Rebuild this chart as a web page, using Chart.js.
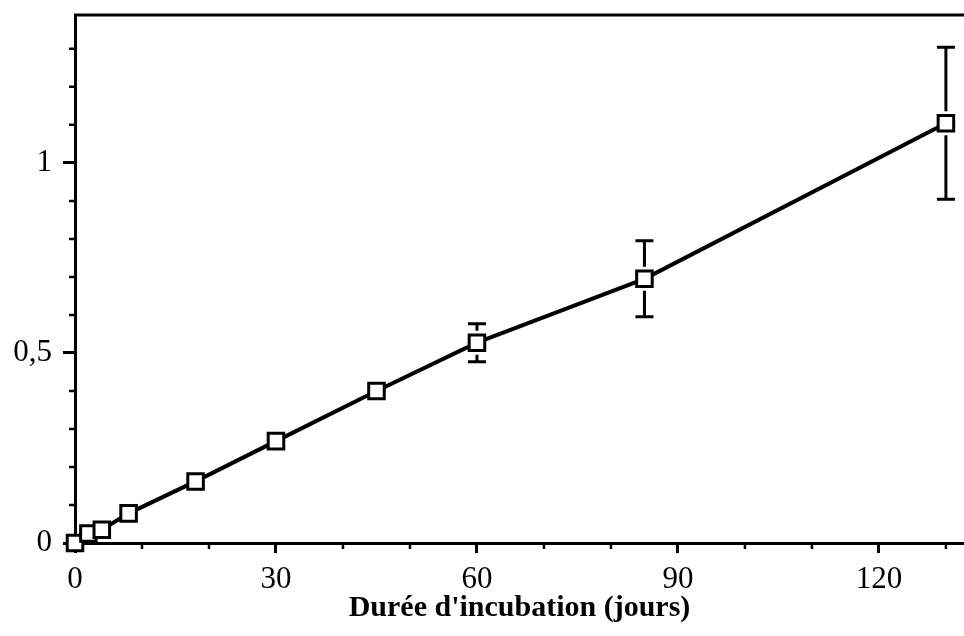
<!DOCTYPE html>
<html>
<head>
<meta charset="utf-8">
<script src="https://cdn.jsdelivr.net/npm/chart.js@4/dist/chart.umd.min.js"></script>
<style>
  html, body { margin: 0; padding: 0; background: #fff; }
  #wrap { width: 964px; height: 636px; }
</style>
</head>
<body>
<div id="wrap"><canvas id="chart" width="964" height="636"></canvas></div>
<script>
// incubation time (days) and measured values with error half-widths
const days = [0, 2, 4, 8, 18, 30, 45, 60, 85, 130];
const values = [0, 0.025, 0.035, 0.078, 0.162, 0.268, 0.4, 0.527, 0.695, 1.104];
const errors = [0, 0, 0, 0, 0, 0, 0, 0.05, 0.1, 0.2];
const xMajorTicks = [0, 30, 60, 90, 120];
const yTickLabels = { 0: "0", 0.5: "0,5", 1: "1" };

const FONT = "'Liberation Serif', 'Times New Roman', serif";
const isMajor = (v, step) => Math.abs(v / step - Math.round(v / step)) < 1e-6;

// error bars, minor ticks and the top frame line
const extras = {
  id: "extras",
  beforeDatasetsDraw(chart) {
    const { ctx, scales: { x, y } } = chart;
    const half = 12;
    ctx.save();
    ctx.strokeStyle = "#000";
    ctx.lineWidth = 3;
    days.forEach((d, i) => {
      if (!errors[i]) return;
      const px = x.getPixelForValue(d);
      const py = y.getPixelForValue(values[i]);
      const top = y.getPixelForValue(values[i] + errors[i]);
      const bot = y.getPixelForValue(values[i] - errors[i]);
      ctx.beginPath();
      ctx.moveTo(px, top);
      ctx.lineTo(px, py - half);
      ctx.moveTo(px, py + half);
      ctx.lineTo(px, bot);
      ctx.moveTo(px - 9, top);
      ctx.lineTo(px + 9, top);
      ctx.moveTo(px - 9, bot);
      ctx.lineTo(px + 9, bot);
      ctx.stroke();
    });
    ctx.restore();
  },
  afterDraw(chart) {
    const { ctx, chartArea, scales: { x, y } } = chart;
    ctx.save();
    ctx.strokeStyle = "#000";
    ctx.lineWidth = 3;
    ctx.beginPath();
    ctx.moveTo(chartArea.left - 1, chartArea.top);
    ctx.lineTo(chartArea.right, chartArea.top);
    ctx.stroke();
    ctx.lineWidth = 2.5;
    ctx.beginPath();
    x.ticks.forEach(t => {
      if (xMajorTicks.includes(t.value)) return;
      const px = x.getPixelForValue(t.value);
      ctx.moveTo(px, chartArea.bottom);
      ctx.lineTo(px, chartArea.bottom + 6);
    });
    y.ticks.forEach(t => {
      if (isMajor(t.value, 0.5)) return;
      const py = y.getPixelForValue(t.value);
      ctx.moveTo(chartArea.left, py);
      ctx.lineTo(chartArea.left - 6, py);
    });
    ctx.stroke();
    ctx.restore();
  }
};

new Chart(document.getElementById("chart"), {
  type: "line",
  data: {
    datasets: [{
      data: days.map((d, i) => ({ x: d, y: values[i] })),
      borderColor: "#000",
      borderWidth: 4,
      pointStyle: "rect",
      pointRadius: 11,
      pointBorderWidth: 3,
      pointBorderColor: "#000",
      pointBackgroundColor: "#fff",
      tension: 0,
      clip: false
    }]
  },
  options: {
    responsive: false,
    animation: false,
    layout: { autoPadding: false, padding: { top: 15, right: 0, left: 0, bottom: 0 } },
    plugins: { legend: { display: false }, tooltip: { enabled: false } },
    scales: {
      x: {
        type: "linear",
        min: 0,
        max: 132.7,
        afterFit: s => { s.height = 93; s.paddingLeft = 0; s.paddingRight = 0; },
        border: { display: true, color: "#000", width: 3 },
        grid: {
          drawOnChartArea: false,
          drawTicks: true,
          tickLength: 10,
          tickWidth: 3,
          tickColor: c => xMajorTicks.includes(c.tick.value) ? "#000" : "rgba(0,0,0,0)"
        },
        ticks: {
          stepSize: 10,
          autoSkip: false,
          maxRotation: 0,
          includeBounds: false,
          padding: 8,
          color: "#000",
          font: { family: FONT, size: 31 },
          callback: v => xMajorTicks.includes(v) ? String(v) : ""
        },
        title: {
          display: true,
          text: "Durée d'incubation (jours)",
          color: "#000",
          font: { family: FONT, size: 30, weight: "bold" },
          padding: { top: 0, bottom: 10 }
        }
      },
      y: {
        type: "linear",
        min: 0,
        max: 1.389,
        afterFit: s => { s.width = 75; s.paddingTop = 0; s.paddingBottom = 0; },
        border: { display: true, color: "#000", width: 3 },
        grid: {
          drawOnChartArea: false,
          drawTicks: true,
          tickLength: 12,
          tickWidth: 3,
          tickColor: c => isMajor(c.tick.value, 0.5) ? "#000" : "rgba(0,0,0,0)"
        },
        ticks: {
          stepSize: 0.1,
          autoSkip: false,
          includeBounds: false,
          padding: 11,
          color: "#000",
          font: { family: FONT, size: 31 },
          callback: v => {
            for (const k in yTickLabels) if (Math.abs(v - Number(k)) < 1e-6) return yTickLabels[k];
            return "";
          }
        }
      }
    }
  },
  plugins: [extras]
});
</script>
</body>
</html>
